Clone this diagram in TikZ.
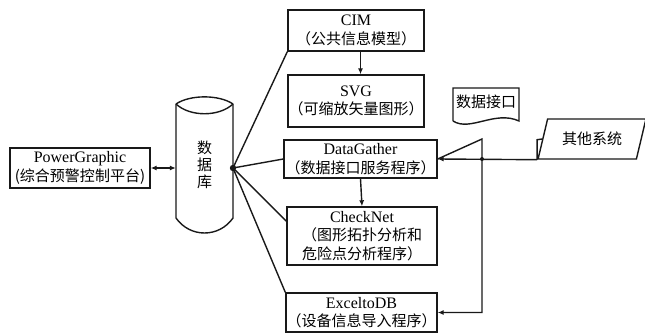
\documentclass[tikz,border=0pt]{standalone}
\usepackage{fontspec}
\setmainfont{Liberation Serif}
\newfontfamily\cjk{Noto Sans CJK SC}
\usetikzlibrary{shapes.geometric,arrows.meta,calc}
\definecolor{myblack}{rgb}{0.100,0.100,0.100}
\definecolor{mywhite}{rgb}{1.000,1.000,1.000}
\newcommand{\zh}[1]{{\cjk\fontsize{15}{18}\selectfont #1}}
\tikzstyle{box}=[rectangle,draw=myblack,fill=mywhite,line width=1.4pt,align=center,inner sep=0pt,font=\fontsize{16}{18.5}\selectfont]
\tikzstyle{link}=[draw=myblack,line width=1.4pt]
\tikzstyle{tip}=[-{Latex[length=6pt,width=5pt]}]
\tikzstyle{tips}=[{Latex[length=6pt,width=5pt]}-{Latex[length=6pt,width=5pt]}]

\begin{document}
\begin{tikzpicture}[x=1pt,y=-1pt]
	\useasboundingbox (0,0) rectangle (645,334);
	% boxes
		\node [style=box,minimum width=136pt,minimum height=41pt] (cim) at (356,30.5) {CIM\\\zh{（公共信息模型）}};
		\node [style=box,minimum width=136pt,minimum height=52pt] (svg) at (356,101) {SVG\\\zh{（可缩放矢量图形）}};
		\node [style=box,minimum width=153pt,minimum height=38pt] (gather) at (360.5,159) {DataGather\\\zh{（数据接口服务程序）}};
		\node [style=box,minimum width=150pt,minimum height=58pt] (check) at (362,236) {CheckNet\\\zh{（图形拓扑分析和}\\\zh{危险点分析程序）}};
		\node [style=box,minimum width=151pt,minimum height=39pt] (excel) at (361.5,312.5) {ExceltoDB\\\zh{（设备信息导入程序）}};
		\node [style=box,minimum width=140pt,minimum height=40pt] (power) at (80,168) {PowerGraphic\\\zh{(综合预警控制平台)}};
	% database
		\node [align=center,inner sep=0pt,minimum width=57pt,minimum height=136pt,font=\cjk\fontsize{15}{17}\selectfont] (db) at (204.5,165) {数\\据\\库};
		\draw [style=link] (176,104) -- (176,218) .. controls (190,238) and (219,238) .. (233,218) -- (233,104);
		\draw [style=link] (176,104) .. controls (190,94.5) and (219,94.5) .. (233,104);
		\draw [style=link] (176,104) .. controls (190,117) and (219,117) .. (233,104);
	% interface
		\node [inner sep=0pt,minimum width=66pt,minimum height=30pt,font=\cjk\fontsize{15}{17}\selectfont] (iface) at (486,102) {数据接口};
		\draw [style=link] (453,121) -- (453,88) -- (519,88) -- (519,121) .. controls (495,110) and (470,132) .. (453,121);
		\node [trapezium,draw=myblack,line width=1.4pt,trapezium left angle=65,trapezium right angle=115,trapezium stretches=true,minimum width=108pt,minimum height=40pt,inner sep=0pt,font=\cjk\fontsize{15}{17}\selectfont] (other) at (592,139) {其他系统};
	% connectors
		\coordinate (j) at (233,168);
		\coordinate (ftop) at (482,139);
		\coordinate (fdot) at (482,159);
		\fill [myblack] (j) circle (3.2pt);
		\draw [style=link,style=tips] (power.east) -- (power.east -| db.west);
		\draw [style=link] (j) -- (cim.south west);
		\draw [style=link] (j) -- (gather.west);
		\draw [style=link] (j) -- ($(check.north west)!0.25!(check.south west)$);
		\draw [style=link] (j) -- (excel.north west);
		\draw [style=link,style=tip] (cim.south -| gather.south) -- (svg.north -| gather.south);
		\draw [style=link,style=tip] (gather.south) -- (check.north);
		\draw [style=link,style=tip] (other.bottom left corner) -- (gather.east);
		\draw [style=link] (other.bottom left corner) -- ++(0,-20) -- (other.west);
		\draw [style=link,style=tip] (gather.east) -- (ftop) -- (ftop |- excel.east) -- (excel.east);
		\fill [myblack] (fdot) circle (2pt);
\end{tikzpicture}
\end{document}
